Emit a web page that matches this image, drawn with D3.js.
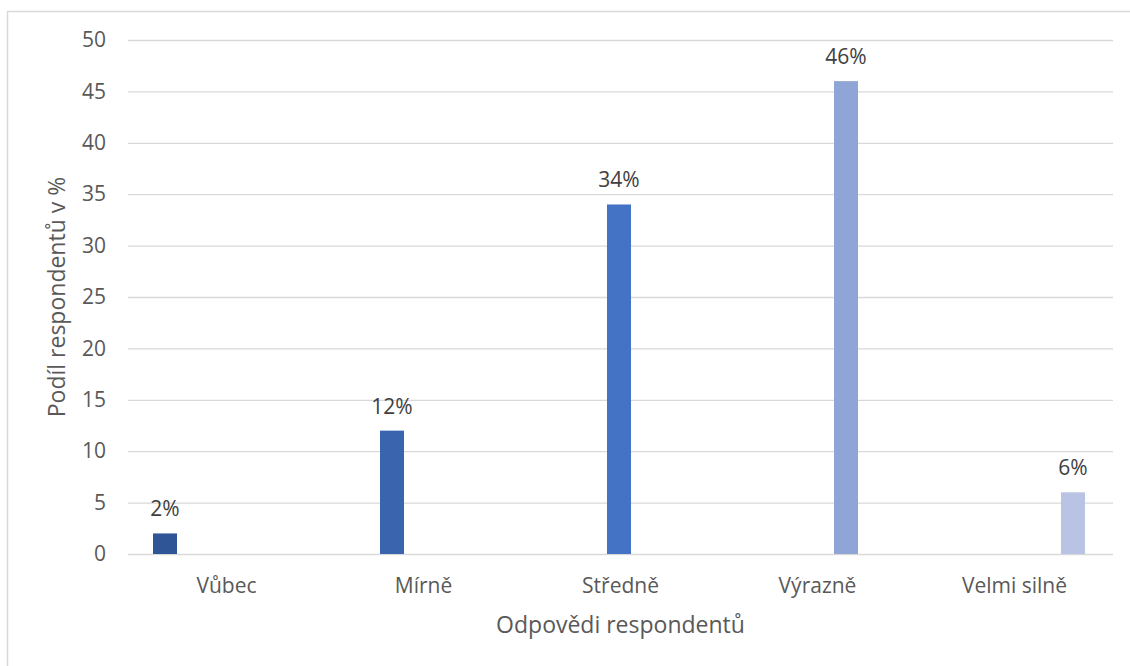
<!DOCTYPE html>
<html><head><meta charset="utf-8">
<script src="https://cdn.jsdelivr.net/npm/d3@7"></script>
<style>
html,body{margin:0;padding:0;background:#fff;}
svg{display:block;font-family:"Open Sans","Noto Sans",sans-serif;}
</style></head>
<body><svg id="c" width="1130" height="666"></svg>
<script>
const categories = ["Vůbec","Mírně","Středně","Výrazně","Velmi silně"];
const values = [2,12,34,46,6];
const labels = ["2%","12%","34%","46%","6%"];
const colors = ["#2F5597","#3A64AE","#4472C4","#8FA5D6","#B9C4E4"];
const yTicks = [0,5,10,15,20,25,30,35,40,45,50];
const yTitle = "Podíl respondentů v %";
const xTitle = "Odpovědi respondentů";

(function(){
const svg = d3.select("#c");
svg.append("rect").attr("x",7.5).attr("y",11.5).attr("width",1140).attr("height",670)
  .attr("fill","none").attr("stroke","#D9D9D9").attr("stroke-width",1.5);

const pL=128, pR=1113, pT=40, pB=554;
const x = d3.scaleBand().domain(categories).range([pL,pR]).paddingInner(0).paddingOuter(0);
const inner = d3.scaleBand().domain(d3.range(categories.length))
  .range([25, 25+144]).paddingInner(0.2).paddingOuter(0);
const y = d3.scaleLinear().domain([0,50]).range([pB,pT]);

const yAxis = d3.axisLeft(y).tickValues(yTicks).tickSize(-(pR-pL)).tickPadding(22);
const gy = svg.append("g").attr("transform",`translate(${pL},0)`).call(yAxis);
gy.select(".domain").remove();
gy.attr("font-family",null);
gy.selectAll(".tick line").attr("stroke","#D9D9D9").attr("stroke-width",1.3);
gy.selectAll(".tick text").attr("fill","#595959").style("font-size","21px");

const xAxis = d3.axisBottom(x).tickSize(0).tickPadding(24);
const gx = svg.append("g").attr("transform",`translate(0,${pB})`).call(xAxis);
gx.select(".domain").remove();
gx.attr("font-family",null);
gx.selectAll(".tick text").attr("fill","#595959").style("font-size","21px");

const data = categories.map((c,i)=>({c,i,v:values[i],l:labels[i],col:colors[i]}));
svg.append("g").selectAll("rect").data(data).join("rect")
  .attr("x",d=>x(d.c)+inner(d.i))
  .attr("width",inner.bandwidth())
  .attr("y",d=>y(d.v))
  .attr("height",d=>y(0)-y(d.v))
  .attr("fill",d=>d.col);

svg.append("g").selectAll("text").data(data).join("text")
  .attr("x",d=>x(d.c)+inner(d.i)+inner.bandwidth()/2)
  .attr("y",d=>y(d.v)-17)
  .attr("text-anchor","middle")
  .attr("fill","#404040")
  .style("font-size","21px")
  .text(d=>d.l);

svg.append("text").attr("transform",`translate(65,${(pT+pB)/2}) rotate(-90)`)
  .attr("text-anchor","middle").attr("fill","#595959").style("font-size","23px").text(yTitle);
svg.append("text").attr("x",(pL+pR)/2).attr("y",633)
  .attr("text-anchor","middle").attr("fill","#595959").style("font-size","23px").text(xTitle);
})();
</script></body></html>
